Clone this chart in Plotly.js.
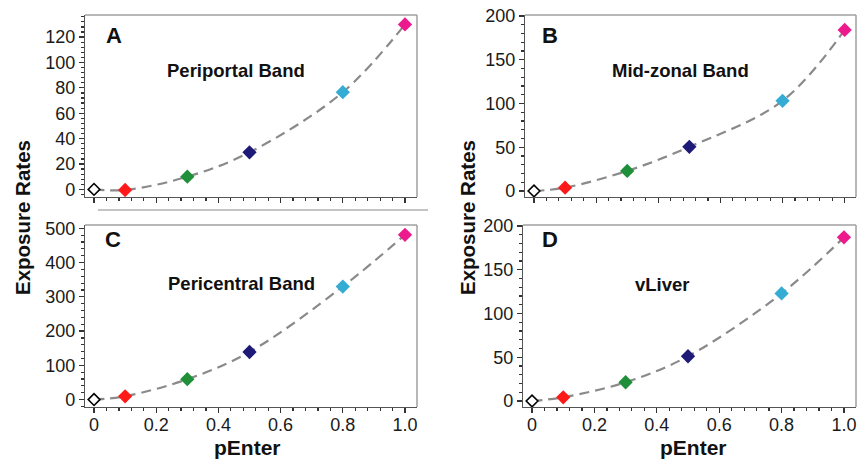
<!DOCTYPE html>
<html><head><meta charset="utf-8">
<script src="https://cdn.plot.ly/plotly-3.0.1.min.js"></script>
<style>html,body{margin:0;padding:0;background:#fff}#chart{width:857px;height:459px}</style>
</head><body><div id="chart"></div>
<script>
const pEnter = [0, 0.1, 0.3, 0.5, 0.8, 1.0];
const periportal = [0, -0.5, 10, 29.2, 76.6, 130];
const midzonal = [0, 3.8, 22.9, 50.4, 103, 184];
const pericentral = [0, 9.7, 59.5, 139, 330, 481];
const vLiver = [0, 4.2, 21.4, 51.1, 122.9, 187];
const markerFill = ['#ffffff', '#ff1a1a', '#1f8f3a', '#1e1a78', '#35acd4', '#ec1a8c'];
const markerEdge = ['#000000', '#ff1a1a', '#1f8f3a', '#1e1a78', '#35acd4', '#ec1a8c'];
const xTickVals = [0, 0.2, 0.4, 0.6, 0.8, 1.0];
const xTickText = ['0', '0.2', '0.4', '0.6', '0.8', '1.0'];
const panelLetters = ['A', 'B', 'C', 'D'];
const panelNames = ['Periportal Band', 'Mid-zonal Band', 'Pericentral Band', 'vLiver'];
const seriesList = [periportal, midzonal, pericentral, vLiver];

const W = 857, H = 459;
const FONT = 'Liberation Sans, Arial, sans-serif';
// panel boxes in pixels [left, right, top, bottom]
const boxes = [[85, 417, 15, 197], [525, 856, 15, 197], [85, 417, 225, 407], [523, 856, 225, 407]];
const yRanges = [[-6, 137.4], [-6.9, 201.1], [-21.6, 509.6], [-6.9, 201.1]];
const yDticks = [20, 50, 100, 50];
const yMinor = [4, 10, 20, 10];
const xRanges = [[-0.029, 1.0386], [-0.029, 1.0364], [-0.029, 1.0386], [-0.029, 1.0386]];
const letterPos = [[114, 35], [550, 35], [113, 239], [550, 239]];
const namePos = [[236, 70], [680, 70], [241.7, 283.5], [662.5, 284]];

const traces = [];
const layout = {
  width: W, height: H, margin: {l: 0, r: 0, t: 0, b: 0},
  paper_bgcolor: '#fff', plot_bgcolor: '#fff', showlegend: false,
  font: {family: FONT, color: '#1a1a1a'},
  shapes: [], annotations: []
};
for (let i = 0; i < 4; i++) {
  const sfx = i === 0 ? '' : String(i + 1);
  const b = boxes[i];
  traces.push({
    x: pEnter, y: seriesList[i], xaxis: 'x' + sfx, yaxis: 'y' + sfx,
    type: 'scatter', mode: 'lines+markers',
    line: {shape: 'spline', color: '#8a8a8a', width: 2.2, dash: '10px,6px'},
    marker: {symbol: 'diamond', size: [9, 11, 11, 11, 11, 11], color: markerFill, opacity: 1,
      line: {color: markerEdge, width: [1.6, 0, 0, 0, 0, 0]}},
    hoverinfo: 'x+y'
  });
  layout['xaxis' + sfx] = {
    domain: [b[0] / W, b[1] / W], anchor: 'y' + sfx, range: xRanges[i],
    showgrid: false, zeroline: false, showline: true, linecolor: '#555', linewidth: 1.2,
    ticks: 'outside', ticklen: 5, tickwidth: 1.2, tickcolor: '#333',
    tickmode: 'array', tickvals: xTickVals, ticktext: xTickText, ticklabelstandoff: -4,
    showticklabels: i >= 2, tickfont: {size: 18, family: FONT, color: '#1a1a1a'},
    minor: {dtick: 0.04, tick0: 0, ticks: 'outside', ticklen: 3, tickwidth: 1.2, tickcolor: '#333', showgrid: false}
  };
  layout['yaxis' + sfx] = {
    domain: [1 - b[3] / H, 1 - b[2] / H], anchor: 'x' + sfx, range: yRanges[i],
    showgrid: false, zeroline: false, showline: true, linecolor: '#555', linewidth: 1.2,
    ticks: 'outside', ticklen: 5, tickwidth: 1.2, tickcolor: '#333',
    tickmode: 'linear', tick0: 0, dtick: yDticks[i],
    tickfont: {size: 18, family: FONT, color: '#1a1a1a'},
    minor: {dtick: yMinor[i], tick0: 0, ticks: 'outside', ticklen: 3, tickwidth: 1.2, tickcolor: '#333', showgrid: false}
  };
  layout.shapes.push(
    {type: 'line', xref: 'x' + sfx + ' domain', yref: 'y' + sfx + ' domain', x0: 0, x1: 1, y0: 1, y1: 1, line: {color: '#a0a0a0', width: 1.5}},
    {type: 'line', xref: 'x' + sfx + ' domain', yref: 'y' + sfx + ' domain', x0: 1, x1: 1, y0: 0, y1: 1, line: {color: '#a0a0a0', width: 1.5}}
  );
  layout.annotations.push(
    {text: '<b>' + panelLetters[i] + '</b>', xref: 'paper', yref: 'paper', x: letterPos[i][0] / W, y: 1 - letterPos[i][1] / H,
      xanchor: 'center', yanchor: 'middle', showarrow: false, font: {size: 22, family: FONT, color: '#111'}},
    {text: '<b>' + panelNames[i] + '</b>', xref: 'paper', yref: 'paper', x: namePos[i][0] / W, y: 1 - namePos[i][1] / H,
      xanchor: 'center', yanchor: 'middle', showarrow: false, font: {size: 18.5, family: FONT, color: '#111'}}
  );
}
// axis titles
const yTitlePos = [[23, 218], [468, 218]];
const xTitlePos = [[247, 447], [693, 447]];
for (let k = 0; k < 2; k++) {
  layout.annotations.push(
    {text: '<b>Exposure Rates</b>', xref: 'paper', yref: 'paper', x: yTitlePos[k][0] / W, y: 1 - yTitlePos[k][1] / H,
      xanchor: 'center', yanchor: 'middle', textangle: -90, showarrow: false, font: {size: 20.5, family: FONT, color: '#111'}},
    {text: '<b>pEnter</b>', xref: 'paper', yref: 'paper', x: xTitlePos[k][0] / W, y: 1 - xTitlePos[k][1] / H,
      xanchor: 'center', yanchor: 'middle', showarrow: false, font: {size: 21, family: FONT, color: '#111'}}
  );
}
// separator line between top-left and bottom-left panels
layout.shapes.push({type: 'line', xref: 'paper', yref: 'paper', x0: 98 / W, x1: 428 / W, y0: 1 - 210 / H, y1: 1 - 210 / H,
  line: {color: '#c4c4c4', width: 2}});

Plotly.newPlot('chart', traces, layout, {displayModeBar: false, staticPlot: true});
</script>
</body></html>
